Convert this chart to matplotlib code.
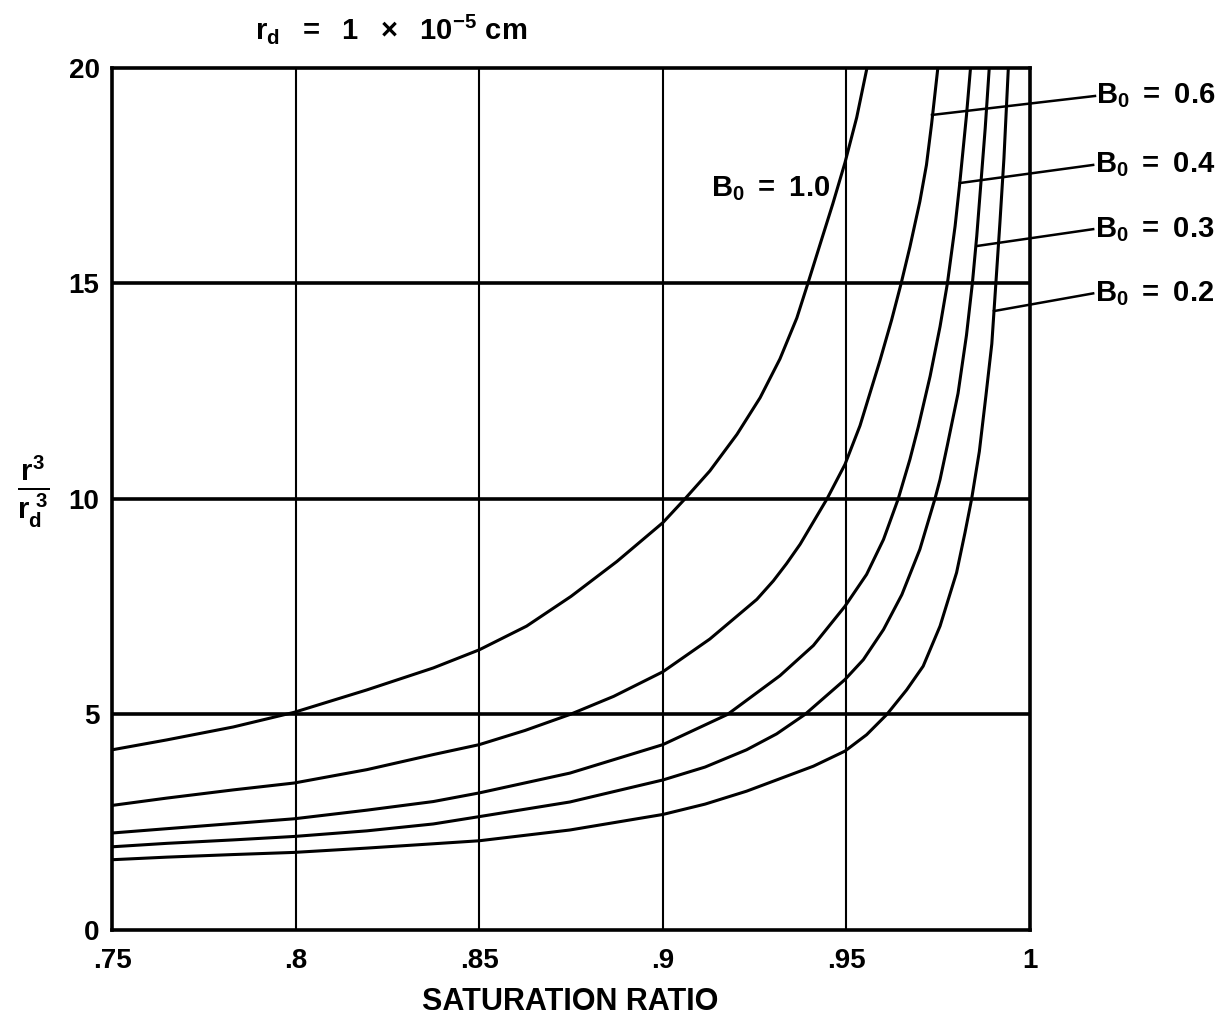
import matplotlib.pyplot as plt
import numpy as np

# saturation ratio vs r^3/rd^3
s_10 = [.75, .7649, .783, .7996, .8194, .8375, .85, .8629, .875, .8875, .90, .906, .9128,
        .9202, .9265, .9319, .9365, .9395, .9428, .9463, .9496, .9528, .9556]
v_10 = [4.18, 4.41, 4.71, 5.05, 5.57, 6.08, 6.5, 7.05, 7.74, 8.55, 9.45, 10.0, 10.65,
        11.5, 12.35, 13.25, 14.2, 15.0, 15.9, 16.85, 17.8, 18.85, 20.0]

s_06 = [.75, .7649, .783, .7996, .8194, .8375, .85, .8625, .8747, .8866, .90, .9128, .9256,
        .9301, .9337, .9374, .9447, .9496, .9537, .9555, .9591, .9623, .9649, .9673, .97,
        .9718, .9732, .9749]
v_06 = [2.89, 3.06, 3.25, 3.41, 3.72, 4.07, 4.3, 4.63, 5.0, 5.42, 5.99, 6.75, 7.67,
        8.1, 8.5, 8.95, 10.0, 10.8, 11.7, 12.2, 13.2, 14.15, 15.0, 15.85, 16.9,
        17.75, 18.7, 20.0]

s_04 = [.75, .7649, .783, .7996, .8194, .8375, .85, .8747, .90, .9176, .9319, .941, .9496,
        .9555, .9601, .9641, .9673, .9696, .9728, .9755, .9775, .9796, .9809, .9827, .9838]
v_04 = [2.25, 2.35, 2.47, 2.58, 2.78, 2.98, 3.18, 3.64, 4.30, 5.0, 5.9, 6.6, 7.51,
        8.25, 9.06, 10.0, 10.92, 11.68, 12.85, 14.0, 15.0, 16.33, 17.35, 18.9, 20.0]

s_03 = [.75, .7649, .783, .7996, .8194, .8375, .85, .8747, .90, .9115, .9228, .931, .9387,
        .9496, .9546, .9601, .9651, .97, .9741, .9755, .9775, .9804, .9827, .9843, .9855,
        .9866, .9878, .9889]
v_03 = [1.93, 2.01, 2.09, 2.17, 2.30, 2.46, 2.63, 2.97, 3.48, 3.78, 4.18, 4.55, 5.0,
        5.81, 6.27, 6.97, 7.78, 8.83, 10.0, 10.45, 11.25, 12.45, 13.8, 15.0, 16.1,
        17.3, 18.6, 20.0]

s_02 = [.75, .7649, .783, .7996, .8194, .8375, .85, .8747, .90, .9115, .9228, .941, .9496,
        .9555, .961, .9664, .9709, .9755, .98, .9823, .9841, .9862, .988, .9896, .9907,
        .9918, .9929, .9941]
v_02 = [1.63, 1.69, 1.75, 1.80, 1.90, 2.00, 2.07, 2.32, 2.68, 2.92, 3.22, 3.8, 4.15,
        4.53, 5.0, 5.57, 6.12, 7.05, 8.29, 9.22, 10.0, 11.1, 12.4, 13.6, 15.0,
        16.4, 17.9, 20.0]

xticks = [.75, .80, .85, .90, .95, 1.0]
xtick_labels = [".75", ".8", ".85", ".9", ".95", "1"]
yticks = [0, 5, 10, 15, 20]

# right-hand labels: leader from curve to label anchor
labels = ["0.6", "0.4", "0.3", "0.2"]
lead_from = [(.9733, 18.91), (.9809, 17.33), (.9856, 15.87), (.9902, 14.36)]
lead_to = [(1.0177, 19.35), (1.0172, 17.75), (1.0172, 16.26), (1.0172, 14.77)]

plt.rcParams['font.family'] = ['Liberation Sans', 'DejaVu Sans']
plt.rcParams['font.weight'] = 'bold'
plt.rcParams['mathtext.fontset'] = 'custom'
plt.rcParams['mathtext.rm'] = 'Liberation Sans:bold'
plt.rcParams['mathtext.it'] = 'Liberation Sans:bold'
plt.rcParams['mathtext.bf'] = 'Liberation Sans:bold'

fig = plt.figure(figsize=(12.3, 10.25), dpi=100)
ax = fig.add_axes([0.0911, 0.0927, 0.7463, 0.8410])

for y in [5, 10, 15]:
    ax.axhline(y, color="black", lw=2.6, zorder=1)
for x in [.80, .85, .90, .95]:
    ax.axvline(x, color="black", lw=1.5, zorder=1)

for s, v in [(s_10, v_10), (s_06, v_06), (s_04, v_04), (s_03, v_03), (s_02, v_02)]:
    ax.plot(s, v, color="black", lw=2.2, zorder=2, solid_joinstyle="round")

ax.set_xlim(.75, 1.0)
ax.set_ylim(0, 20)
ax.set_xticks(xticks)
ax.set_xticklabels(xtick_labels)
ax.set_yticks(yticks)
ax.tick_params(axis="x", length=0, labelsize=20, pad=13)
ax.tick_params(axis="y", length=0, labelsize=20, pad=9)
for sp in ax.spines.values():
    sp.set_linewidth(2.6)

ax.text(.9455, 17.2, r'$B_0\ =\ 1.0$', fontsize=21, ha="right", va="center")

for lab, p0, p1 in zip(labels, lead_from, lead_to):
    ax.plot([p0[0], p1[0]], [p0[1], p1[1]], color="black", lw=1.8, clip_on=False)
    ax.text(p1[0] + 0.0004, p1[1], r'$B_0\ =\ %s$' % lab, fontsize=21,
            ha="left", va="center")

fig.text(0.207, 0.972, r'$r_d\ \ =\ \ 1\ \ \times\ \ 10^{-5}\ $cm', fontsize=21,
         ha="left", va="center")
fig.text(0.027, 0.52, r'$\frac{r^3}{r_d^{\ 3}}$', fontsize=30, ha="center", va="center")

fig.text(0.4636, 0.0224, "SATURATION RATIO", fontsize=22, fontweight="bold",
         ha="center", va="center")

fig.savefig("out.png", dpi=100)
